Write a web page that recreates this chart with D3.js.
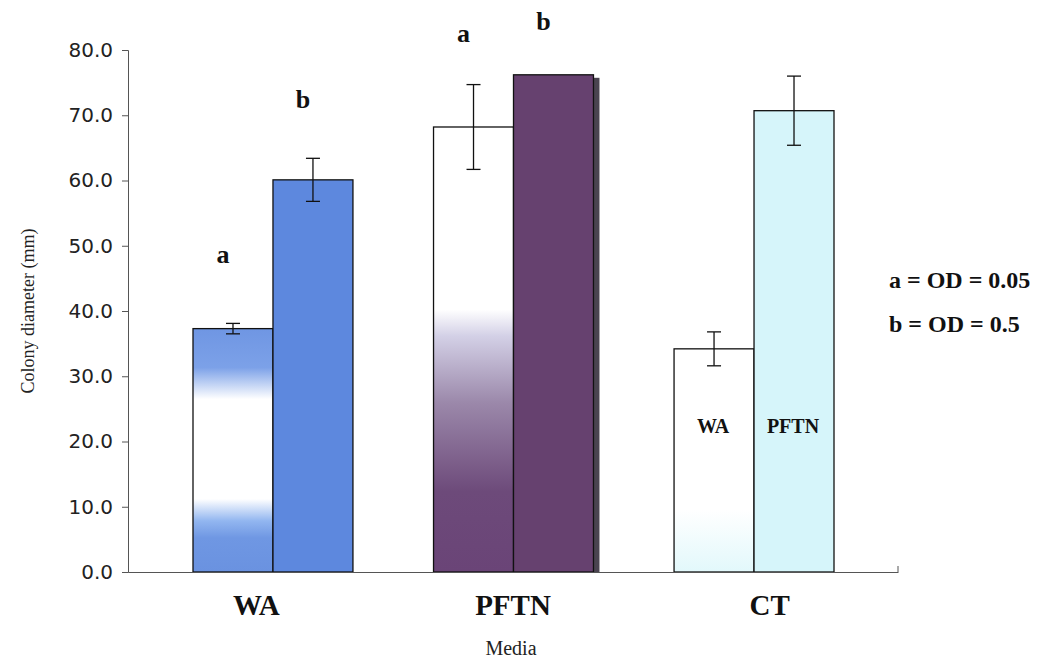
<!DOCTYPE html>
<html>
<head>
<meta charset="utf-8">
<script src="https://cdn.jsdelivr.net/npm/d3@7"></script>
<style>
  body { margin: 0; background: #fff; }
  svg { display: block; }
</style>
</head>
<body>
<div id="chart"></div>
<script>
// data
const media = ["WA", "PFTN", "CT"];
const groups = ["a", "b"];
const meanA = [37.3, 68.2, 34.2];
const meanB = [60.1, 76.2, 70.7];
const errA = [0.8, 6.5, 2.6];
const errB = [3.3, null, 5.3];
const letterA = [47.4, 81.2, null];   // baseline height of the "a"/"b" marks (mm)
const letterB = [71.1, 83.1, null];
const yTicks = [0, 10, 20, 30, 40, 50, 60, 70, 80];
const keyLines = ["a = OD = 0.05", "b = OD = 0.5"];

const width = 1038, height = 663;
const serif = "'Liberation Serif', 'Times New Roman', serif";

const svg = d3.select("#chart").append("svg")
  .attr("width", width).attr("height", height);

const y = d3.scaleLinear().domain([0, 80]).range([572, 50]);
// axis categories, and bar positions (bars sit a bit inward in the original)
const xAxisScale = d3.scaleBand().domain(media).range([128, 898]);
const x = d3.scaleBand().domain(media).range([193, 834]).paddingInner(0.335).paddingOuter(0);
const xi = d3.scaleBand().domain(groups).range([0, x.bandwidth()]);

// gradients
const defs = svg.append("defs");
function grad(id, stops) {
  const g = defs.append("linearGradient").attr("id", id)
    .attr("x1", 0).attr("y1", 0).attr("x2", 0).attr("y2", 1);
  stops.forEach(s => g.append("stop").attr("offset", s[0]).attr("stop-color", s[1]));
}
grad("waA", [[0, "#6f96e3"], [0.16, "#7ca1e8"], [0.29, "#ffffff"], [0.7, "#ffffff"], [0.79, "#92b6f0"], [0.86, "#6f97e3"], [1, "#6a92e0"]]);
grad("pfA", [[0, "#ffffff"], [0.41, "#ffffff"], [0.47, "#d3d0e6"], [0.62, "#9b88aa"], [0.82, "#6d4a7a"], [1, "#6a4477"]]);
grad("ctA", [[0, "#ffffff"], [0.72, "#ffffff"], [1, "#e2f8fb"]]);

const fillA = ["url(#waA)", "url(#pfA)", "url(#ctA)"];
const fillB = ["#5d88de", "#66416f", "#d6f5fa"];

const rows = media.map((m, i) => ({
  m, i,
  bars: [
    { g: "a", v: meanA[i], e: errA[i], fill: fillA[i], l: letterA[i] },
    { g: "b", v: meanB[i], e: errB[i], fill: fillB[i], l: letterB[i] }
  ]
}));

const cat = svg.selectAll("g.cat").data(rows).join("g")
  .attr("class", "cat")
  .attr("transform", d => `translate(${x(d.m)},0)`);

// shadow behind the PFTN b bar
cat.filter(d => d.m === "PFTN").append("rect")
  .attr("x", xi("b") + 6).attr("y", y(meanB[1]) + 3)
  .attr("width", xi.bandwidth()).attr("height", y(0) - y(meanB[1]) - 3)
  .attr("fill", "#4a4450");

cat.selectAll("rect.bar").data(d => d.bars).join("rect")
  .attr("class", "bar")
  .attr("x", d => xi(d.g))
  .attr("y", d => y(d.v))
  .attr("width", xi.bandwidth())
  .attr("height", d => y(0) - y(d.v))
  .attr("fill", d => d.fill)
  .attr("stroke", "#111")
  .attr("stroke-width", 1.3);

// error bars
const eb = cat.selectAll("g.err").data(d => d.bars.filter(b => b.e != null)).join("g")
  .attr("class", "err")
  .attr("transform", d => `translate(${xi(d.g) + xi.bandwidth() / 2},0)`);
eb.append("line").attr("y1", d => y(d.v + d.e)).attr("y2", d => y(d.v - d.e))
  .attr("stroke", "#111").attr("stroke-width", 1.3);
eb.selectAll("line.cap").data(d => [d.v + d.e, d.v - d.e]).join("line")
  .attr("class", "cap").attr("x1", -7).attr("x2", 7)
  .attr("y1", d => y(d)).attr("y2", d => y(d))
  .attr("stroke", "#111").attr("stroke-width", 1.3);

// a / b marks over the bars
cat.selectAll("text.letter").data(d => d.bars.filter(b => b.l != null)).join("text")
  .attr("class", "letter")
  .attr("x", d => xi(d.g) + xi.bandwidth() / 2 - 10)
  .attr("y", d => y(d.l))
  .attr("text-anchor", "middle")
  .style("font-family", serif)
  .style("font-weight", "bold").style("font-size", "26px").attr("fill", "#111")
  .text(d => d.g);

// labels inside the CT bars
cat.filter(d => d.m === "CT").selectAll("text.inbar").data(["WA", "PFTN"]).join("text")
  .attr("class", "inbar")
  .attr("x", (d, i) => xi(groups[i]) + xi.bandwidth() / 2 - 1)
  .attr("y", y(21.3))
  .attr("text-anchor", "middle")
  .style("font-family", serif)
  .style("font-weight", "bold").style("font-size", "20px").attr("fill", "#111")
  .text(d => d);

// y axis
const yAxis = svg.append("g").attr("transform", "translate(128,0)")
  .call(d3.axisLeft(y).tickValues(yTicks).tickFormat(d3.format(".1f")).tickSizeOuter(0).tickSize(6).tickPadding(9));
yAxis.select(".domain").attr("stroke", "#555");
yAxis.selectAll(".tick line").attr("stroke", "#555");
yAxis.selectAll(".tick text")
  .style("font-family", "'DejaVu Sans', Arial, sans-serif")
  .style("font-size", "20px").attr("fill", "#222");

// x axis
const xAxis = svg.append("g").attr("transform", `translate(0,${y(0)})`)
  .call(d3.axisBottom(xAxisScale).tickSize(0).tickPadding(22));
xAxis.select(".domain").attr("stroke", "#555");
xAxis.selectAll(".tick text")
  .style("font-family", serif)
  .style("font-weight", "bold").style("font-size", "29px").attr("fill", "#111");
svg.append("line")
  .attr("x1", xAxisScale.range()[1]).attr("x2", xAxisScale.range()[1])
  .attr("y1", y(0)).attr("y2", y(0) - 6).attr("stroke", "#555");

// titles
svg.append("text").attr("x", 511).attr("y", 655).attr("text-anchor", "middle")
  .style("font-family", serif)
  .style("font-size", "20px").attr("fill", "#222").text("Media");
svg.append("text").attr("transform", `translate(34,${y(40)}) rotate(-90)`)
  .attr("text-anchor", "middle")
  .style("font-family", serif)
  .style("font-size", "18px").attr("fill", "#222").text("Colony diameter (mm)");

// key
svg.selectAll("text.key").data(keyLines).join("text")
  .attr("class", "key")
  .attr("x", 889).attr("y", (d, i) => 288 + i * 44)
  .style("font-family", serif)
  .style("font-weight", "bold").style("font-size", "24px").attr("fill", "#111")
  .text(d => d);
</script>
</body>
</html>
